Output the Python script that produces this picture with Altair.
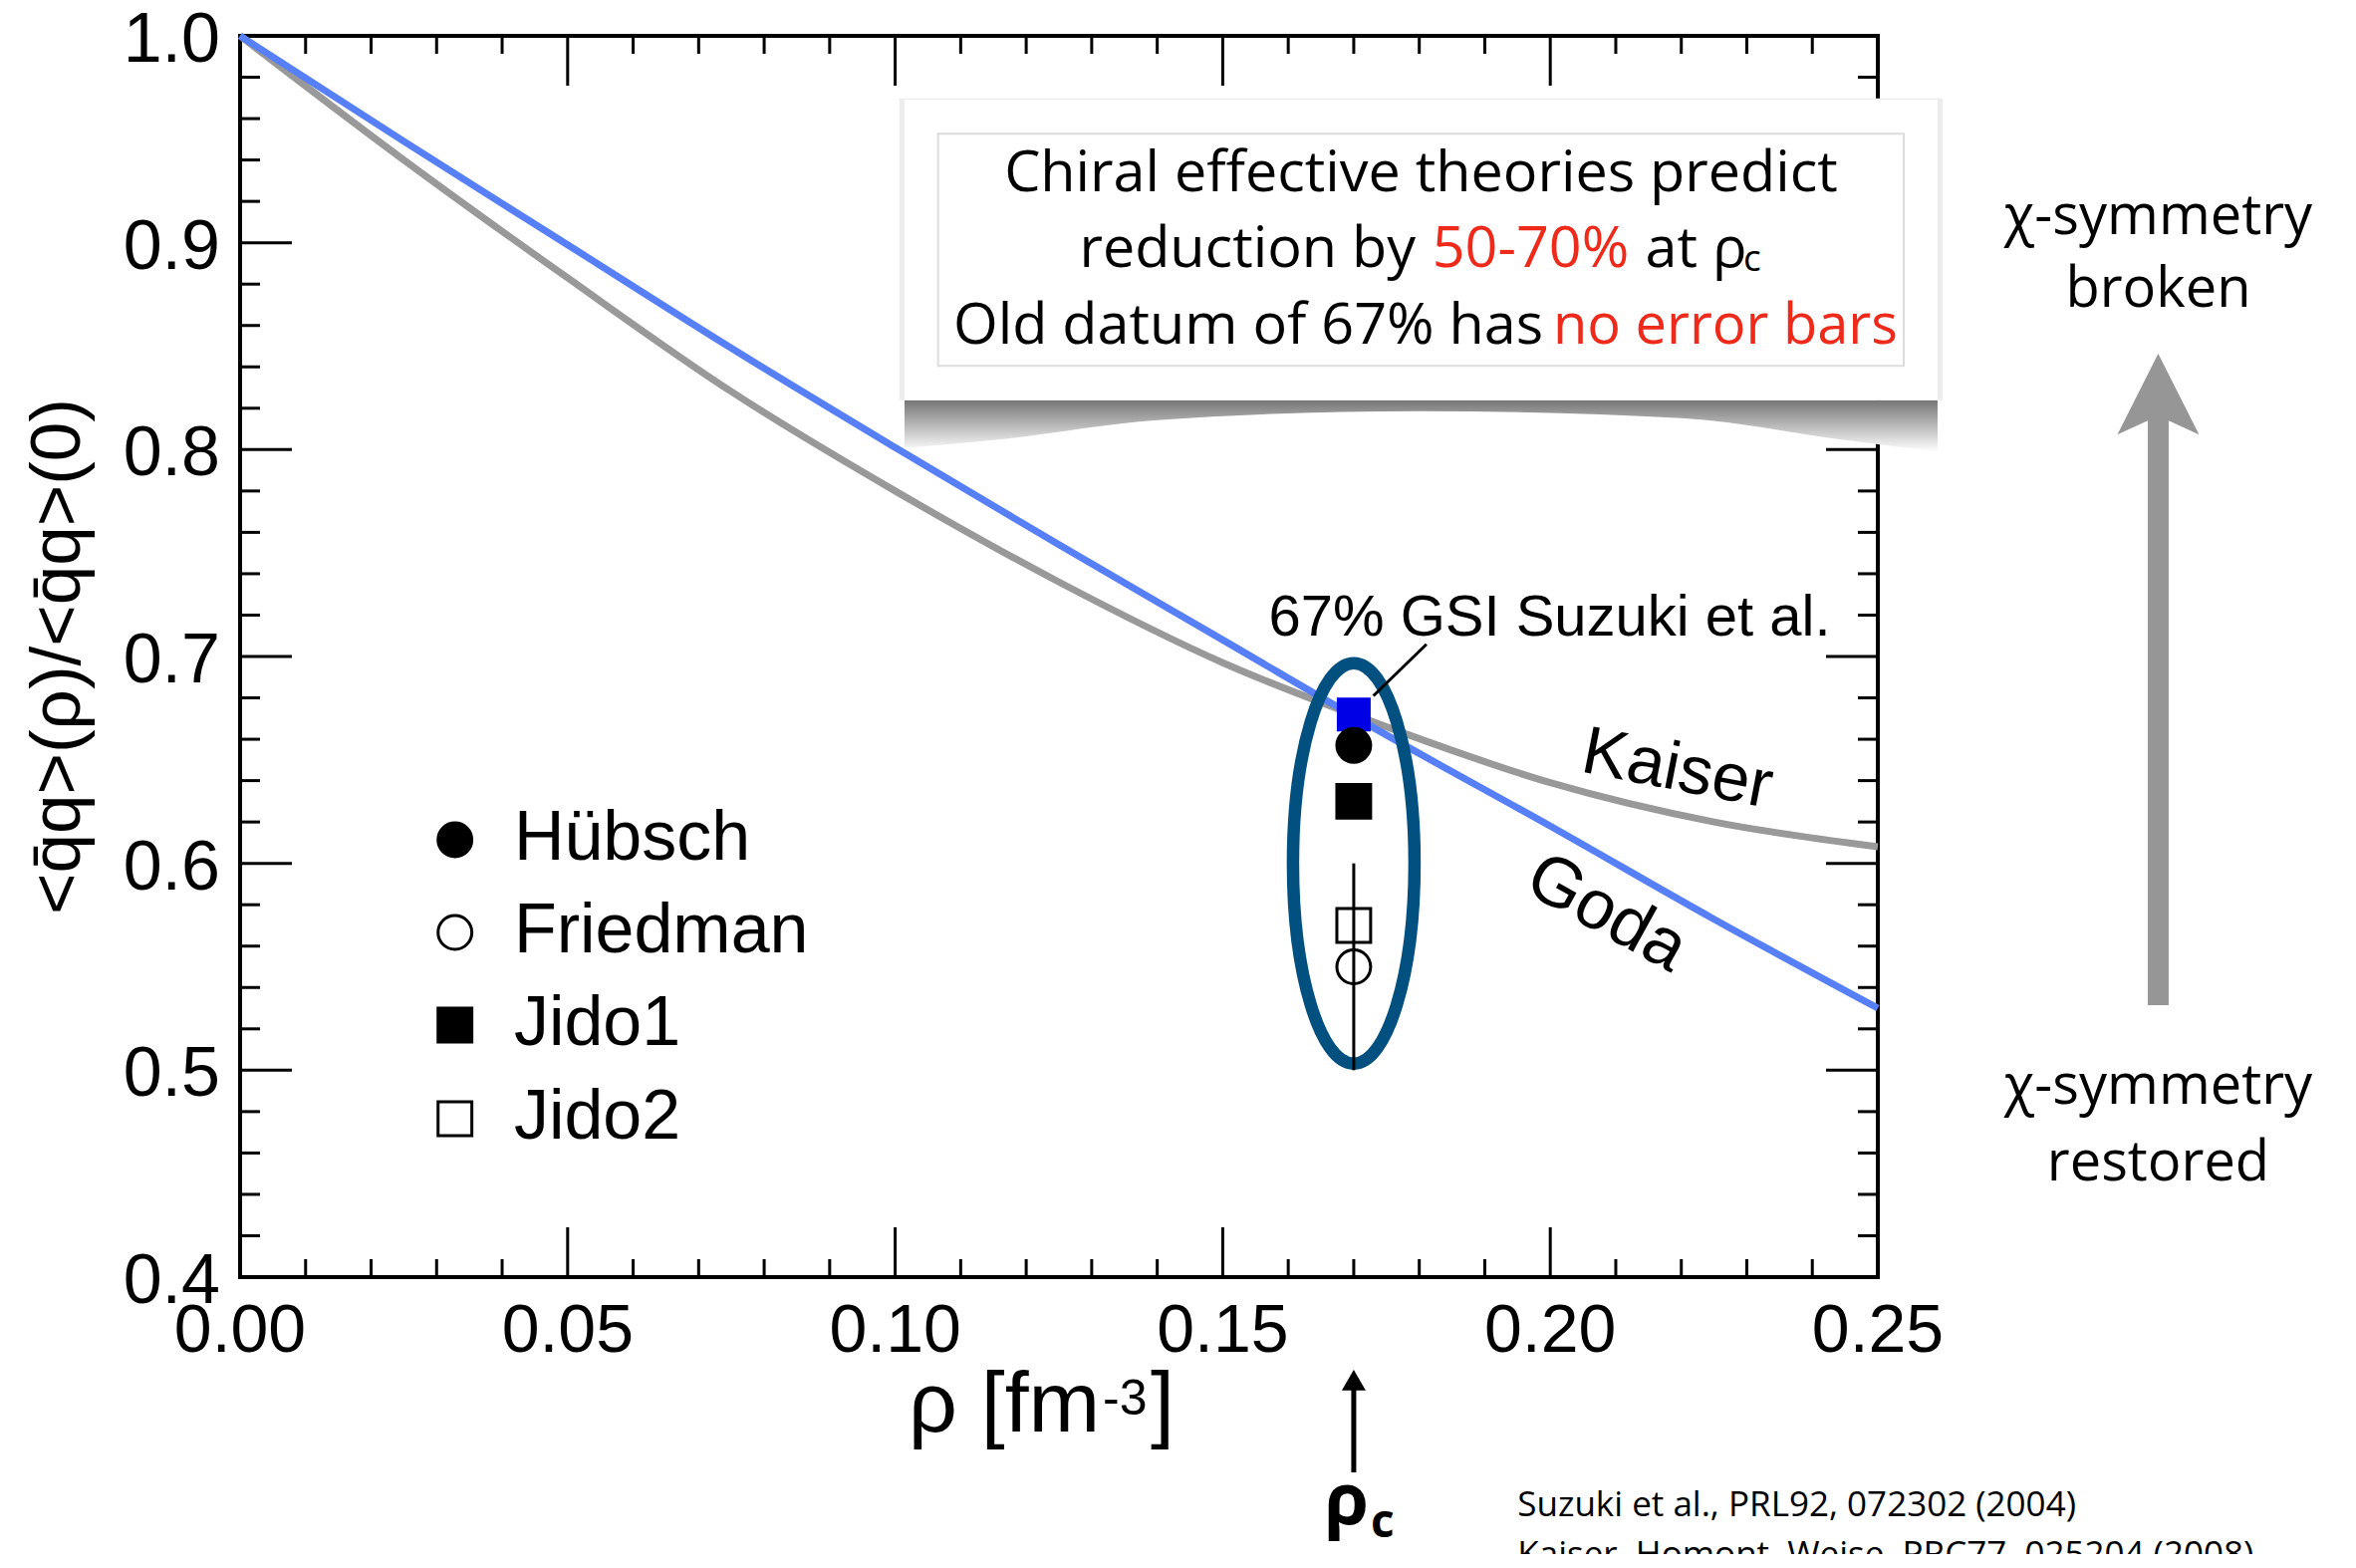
import altair as alt
import pandas as pd

# ---------------- values ----------------
rho = [0.0, 0.025, 0.05, 0.075, 0.10, 0.125, 0.15, 0.175, 0.20, 0.225, 0.25]
kaiser = [1.000, 0.940, 0.883, 0.828, 0.780, 0.736, 0.697, 0.666, 0.639, 0.620, 0.608]
goda = [1.000, 0.949, 0.899, 0.849, 0.801, 0.754, 0.708, 0.662, 0.618, 0.573, 0.530]

series = ["Hübsch", "Friedman", "Jido1", "Jido2"]
series_rho = [0.17, 0.17, 0.17, 0.17]
series_val = [0.657, 0.550, 0.630, 0.570]
series_shape = ["circle", "circle", "square", "square"]
series_fill = ["black", "transparent", "black", "transparent"]
series_size = [1150, 1150, 841, 870]

friedman_err = [0.500, 0.600]
suzuki_rho = [0.17]
suzuki_val = [0.672]

x_major = [0.0, 0.05, 0.10, 0.15, 0.20, 0.25]
x_minor = [0.01, 0.02, 0.03, 0.04, 0.06, 0.07, 0.08, 0.09, 0.11, 0.12, 0.13, 0.14,
           0.16, 0.17, 0.18, 0.19, 0.21, 0.22, 0.23, 0.24]
y_major = [0.4, 0.5, 0.6, 0.7, 0.8, 0.9, 1.0]
y_minor = [0.42, 0.44, 0.46, 0.48, 0.52, 0.54, 0.56, 0.58, 0.62, 0.64, 0.66, 0.68,
           0.72, 0.74, 0.76, 0.78, 0.82, 0.84, 0.86, 0.88, 0.92, 0.94, 0.96, 0.98]

# legend placement (data units)
legend_sym_x = 0.0328
legend_lab_x = 0.0418
legend_sym_y = [0.6114, 0.5666, 0.5218, 0.4766]
legend_lab_y = [0.6018, 0.5570, 0.5122, 0.4669]

# annotation anchors (data units)
ellipse_center = [0.17, 0.60]
leader = [0.1811, 0.7059, 0.1730, 0.6810]
gsi_label = [0.1570, 0.7100]
kaiser_label = [0.2194, 0.6451]
goda_label = [0.2086, 0.5759]
box_outer = [0.10143, 0.25912, 0.8239, 0.96918]
box_inner = [0.10655, 0.25395, 0.8405, 0.9527]
shadow_x = [0.10143, 0.115, 0.14, 0.18, 0.22, 0.245, 0.25912]
shadow_y2 = [0.8008, 0.8046, 0.8143, 0.8186, 0.8152, 0.8046, 0.7989]
line_y = [0.92503, 0.88815, 0.85122]
side_x = 0.2928
side_y = [0.9042, 0.8691, 0.4838, 0.4467]
arrow_y = [0.5315, 0.816, 0.8267]
rc_arrow = [0.17, 0.3056, 0.348, 0.3502]
rc_label = [0.1689, 0.2806, 0.1726, 0.2743]
refs_xy = [0.1950, 0.28443, 0.26035]

W, H = 1644, 1246
xs = alt.Scale(domain=[0.0, 0.25], nice=False, zero=False)
ys = alt.Scale(domain=[0.4, 1.0], nice=False, zero=False)
AX_FONT = "Liberation Sans"
BOX_FONT = "Open Sans"


def X():
    return alt.X("x:Q", scale=xs, axis=None)


def Y():
    return alt.Y("y:Q", scale=ys, axis=None)


def txt(xv, yv, s, size, font, color="black", align="left", baseline="alphabetic",
        angle=0, weight="normal"):
    d = pd.DataFrame({"x": [xv], "y": [yv], "t": [s]})
    return alt.Chart(d).mark_text(font=font, fontSize=size, color=color, align=align,
                                  baseline=baseline, angle=angle, fontWeight=weight
                                  ).encode(x=X(), y=Y(), text="t:N")


def ptxt(px, py, s, size, font=AX_FONT, align="left", angle=0):
    d = pd.DataFrame({"t": [s]})
    return alt.Chart(d).mark_text(font=font, fontSize=size, color="black", align=align,
                                  baseline="alphabetic", angle=angle
                                  ).encode(x=alt.value(px), y=alt.value(py), text="t:N")


# ---------------- frame ticks (inward) and tick labels ----------------
layers = []
for vals, ln in [(x_major, 50), (x_minor, 18)]:
    d = pd.DataFrame({"x": vals})
    layers.append(alt.Chart(d).mark_rule(color="black", strokeWidth=3).encode(
        x=X(), y=alt.value(H), y2=alt.value(H - ln)))
    layers.append(alt.Chart(d).mark_rule(color="black", strokeWidth=3).encode(
        x=X(), y=alt.value(0), y2=alt.value(ln)))
for vals, ln in [(y_major, 52), (y_minor, 20)]:
    d = pd.DataFrame({"y": vals})
    layers.append(alt.Chart(d).mark_rule(color="black", strokeWidth=3).encode(
        y=Y(), x=alt.value(0), x2=alt.value(ln)))
    layers.append(alt.Chart(d).mark_rule(color="black", strokeWidth=3).encode(
        y=Y(), x=alt.value(W), x2=alt.value(W - ln)))

x_labels = alt.Chart(pd.DataFrame({"x": x_major})).mark_text(
    font=AX_FONT, fontSize=68, color="black", align="center", baseline="alphabetic").encode(
    x=X(), y=alt.value(1321), text=alt.Text("x:Q", format=".2f"))
y_labels = alt.Chart(pd.DataFrame({"y": y_major})).mark_text(
    font=AX_FONT, fontSize=70, color="black", align="right", baseline="alphabetic", dy=26).encode(
    y=Y(), x=alt.value(-20), text=alt.Text("y:Q", format=".1f"))

axis_titles = [
    ptxt(-161, 623, "<q\u0304q>(ρ)/<q\u0304q>(0)", 71, align="center", angle=270),
    ptxt(671, 1401, "ρ [fm", 86),
    ptxt(866, 1384, "-3", 50),
    ptxt(914, 1401, "]", 86),
]

# ---------------- curves ----------------
kaiser_line = alt.Chart(pd.DataFrame({"x": rho, "y": kaiser})).mark_line(
    color="#999999", strokeWidth=7, interpolate="monotone").encode(x=X(), y=Y())
goda_line = alt.Chart(pd.DataFrame({"x": rho, "y": goda})).mark_line(
    color="#5780f8", strokeWidth=7, interpolate="monotone").encode(x=X(), y=Y())

# ellipse around the data at rho_c
ell_path = ("M0,-1C0.1676,-1 0.3035,-0.5523 0.3035,0C0.3035,0.5523 0.1676,1 0,1"
            "C-0.1676,1 -0.3035,0.5523 -0.3035,0C-0.3035,-0.5523 -0.1676,-1 0,-1Z")
ellipse = alt.Chart(pd.DataFrame({"x": [ellipse_center[0]], "y": [ellipse_center[1]]})
                    ).mark_point(shape=ell_path, size=161604, filled=False,
                                 stroke="#02507f", strokeWidth=12.5, opacity=1
                                 ).encode(x=X(), y=Y())

suzuki = alt.Chart(pd.DataFrame({"x": suzuki_rho, "y": suzuki_val})).mark_point(
    shape="square", filled=True, color="#0000e6", size=1156, opacity=1).encode(x=X(), y=Y())

errbar = alt.Chart(pd.DataFrame({"x": [0.17], "y": [friedman_err[0]], "y2": [friedman_err[1]]})
                   ).mark_rule(color="black", strokeWidth=3).encode(x=X(), y=Y(), y2="y2:Q")

shape_enc = alt.Shape("series:N", scale=alt.Scale(domain=series, range=series_shape), legend=None)
fill_enc = alt.Fill("series:N", scale=alt.Scale(domain=series, range=series_fill), legend=None)
size_enc = alt.Size("series:N", scale=alt.Scale(domain=series, range=series_size), legend=None)

pts = alt.Chart(pd.DataFrame({"x": series_rho, "y": series_val, "series": series})
                ).mark_point(stroke="black", strokeWidth=3, opacity=1).encode(
    x=X(), y=Y(), shape=shape_enc, fill=fill_enc, size=size_enc)

# legend (symbols use the same scales as the data points)
legend_syms = alt.Chart(pd.DataFrame({"x": [legend_sym_x] * 4, "y": legend_sym_y, "series": series})
                        ).mark_point(stroke="black", strokeWidth=3, opacity=1).encode(
    x=X(), y=Y(), shape=shape_enc, fill=fill_enc, size=size_enc)
legend_text = alt.Chart(pd.DataFrame({"x": [legend_lab_x] * 4, "y": legend_lab_y, "series": series})
                        ).mark_text(font=AX_FONT, fontSize=70, color="black", align="left",
                                    baseline="alphabetic").encode(x=X(), y=Y(), text="series:N")

leader_line = alt.Chart(pd.DataFrame({"x": [leader[0]], "y": [leader[1]],
                                      "x2": [leader[2]], "y2": [leader[3]]})
                        ).mark_rule(color="black", strokeWidth=3).encode(
    x=X(), y=Y(), x2="x2:Q", y2="y2:Q")

# ---------------- text box ----------------
box_shadow_side = alt.Chart(pd.DataFrame({"x": [box_outer[0] - 0.0008], "x2": [box_outer[1] + 0.0008],
                                          "y": [box_outer[2]], "y2": [box_outer[3] + 0.0006]})
                            ).mark_rect(color="#ededed").encode(x=X(), x2="x2:Q", y=Y(), y2="y2:Q")
shadow = alt.Chart(pd.DataFrame({"x": shadow_x, "y": [box_outer[2]] * len(shadow_x), "y2": shadow_y2})
                   ).mark_area(interpolate="monotone", color=alt.LinearGradient(
                       gradient="linear",
                       stops=[alt.GradientStop(color="#757575", offset=0),
                              alt.GradientStop(color="#ffffff", offset=1)],
                       x1=0, x2=0, y1=0, y2=1)).encode(x=X(), y=Y(), y2="y2:Q")
box = alt.Chart(pd.DataFrame({"x": [box_outer[0]], "x2": [box_outer[1]],
                              "y": [box_outer[2]], "y2": [box_outer[3]]})
                ).mark_rect(color="white").encode(x=X(), x2="x2:Q", y=Y(), y2="y2:Q")
inner = alt.Chart(pd.DataFrame({"x": [box_inner[0]], "x2": [box_inner[1]],
                                "y": [box_inner[2]], "y2": [box_inner[3]]})
                  ).mark_rect(fillOpacity=0, stroke="#dcdcdc", strokeWidth=2).encode(
    x=X(), x2="x2:Q", y=Y(), y2="y2:Q")

RED = "#ee2a1b"
BS = 57.5
box_text = [
    txt(0.18027, line_y[0], "Chiral effective theories predict", BS, BOX_FONT, align="center"),
    txt(0.12810, line_y[1], "reduction by", BS, BOX_FONT),
    txt(0.18198, line_y[1], "50-70%", BS, BOX_FONT, color=RED),
    txt(0.21451, line_y[1], "at ρ", BS, BOX_FONT),
    txt(0.22947, 0.8865, "c", 37, BOX_FONT),
    txt(0.10888, line_y[2], "Old datum of 67% has", BS, BOX_FONT),
    txt(0.20043, line_y[2], "no error bars", 56, BOX_FONT, color=RED),
]

# ---------------- right side ----------------
side_text = [
    txt(side_x, side_y[0], "χ-symmetry", 56, BOX_FONT, align="center"),
    txt(side_x, side_y[1], "broken", 56, BOX_FONT, align="center"),
    txt(side_x, side_y[2], "χ-symmetry", 56, BOX_FONT, align="center"),
    txt(side_x, side_y[3], "restored", 56, BOX_FONT, align="center"),
]
shaft = alt.Chart(pd.DataFrame({"x": [side_x], "y": [arrow_y[0]], "y2": [arrow_y[1]]})
                  ).mark_rule(color="#969696", strokeWidth=21).encode(x=X(), y=Y(), y2="y2:Q")
head = alt.Chart(pd.DataFrame({"x": [side_x], "y": [arrow_y[2]]})).mark_point(
    shape="M0,-1L1,0.985L0.256,0.644L-0.256,0.644L-1,0.985Z", size=6724, filled=True,
    color="#969696", opacity=1).encode(x=X(), y=Y())

# ---------------- rho_c arrow and references ----------------
rc_shaft = alt.Chart(pd.DataFrame({"x": [rc_arrow[0]], "y": [rc_arrow[1]], "y2": [rc_arrow[2]]})
                     ).mark_rule(color="black", strokeWidth=5).encode(x=X(), y=Y(), y2="y2:Q")
rc_head = alt.Chart(pd.DataFrame({"x": [rc_arrow[0]], "y": [rc_arrow[3]]})).mark_point(
    shape="triangle-up", size=576, filled=True, color="black", opacity=1).encode(x=X(), y=Y())
rc_text = [
    txt(rc_label[0], rc_label[1], "ρ", 72, BOX_FONT, align="center", weight="bold"),
    txt(rc_label[2], rc_label[3], "c", 46, BOX_FONT, weight="bold"),
]
refs = [
    txt(refs_xy[0], refs_xy[1], "Suzuki et al., PRL92, 072302 (2004)", 35, BOX_FONT),
    txt(refs_xy[0], refs_xy[2], "Kaiser, Homont, Weise, PRC77, 025204 (2008)", 35, BOX_FONT),
]

labels = [
    txt(gsi_label[0], gsi_label[1], "67% GSI Suzuki et al.", 58, AX_FONT),
    txt(kaiser_label[0], kaiser_label[1], "Kaiser", 68, AX_FONT, align="center",
        baseline="middle", angle=11),
    txt(goda_label[0], goda_label[1], "Goda", 70, AX_FONT, align="center",
        baseline="middle", angle=29),
]

chart = alt.layer(
    *layers, x_labels, y_labels, *axis_titles,
    kaiser_line, goda_line, ellipse, suzuki, errbar, pts, legend_syms, legend_text,
    leader_line, *labels,
    box_shadow_side, shadow, box, inner, *box_text, *side_text, shaft, head,
    rc_shaft, rc_head, *rc_text, *refs
).properties(
    width=W, height=H,
    padding={"left": 233, "top": 28, "right": 470, "bottom": 278},
    autosize=alt.AutoSizeParams(type="none"),
).configure_view(stroke="black", strokeWidth=4)

chart.save("out.html", embed_options={"renderer": "svg", "actions": False})
